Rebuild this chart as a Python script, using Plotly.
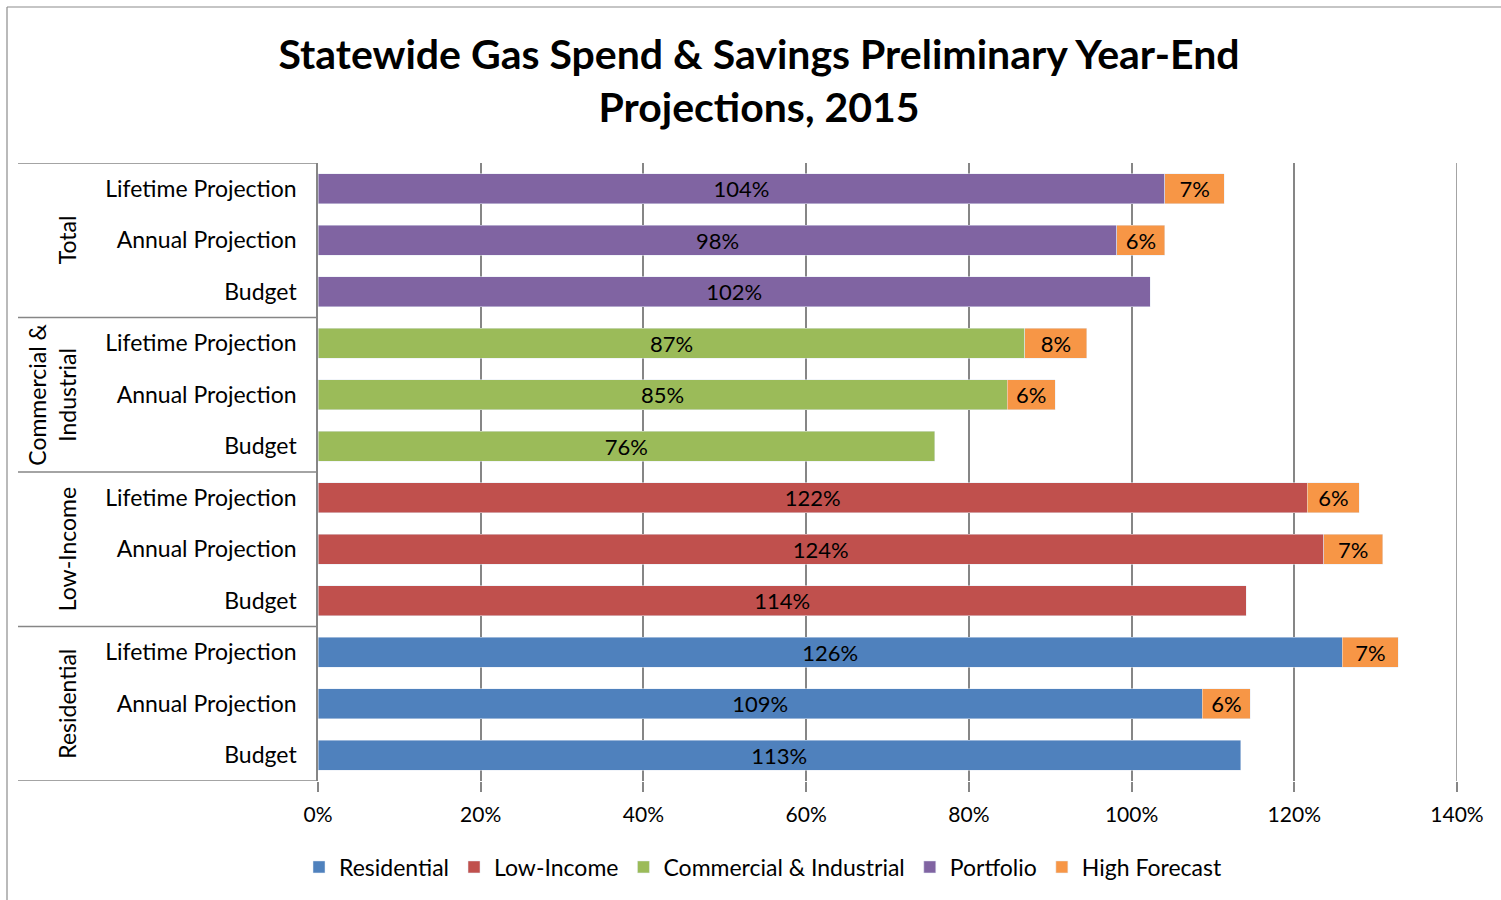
import plotly.graph_objects as go

# Row labels within each sector (top to bottom as displayed)
row_labels = ["Lifetime Projection", "Annual Projection", "Budget"]
# Sectors from top to bottom as displayed
sectors = ["Total", "Commercial &<br>Industrial", "Low-Income", "Residential"]

# Values (fraction of goal), order: Lifetime, Annual, Budget
residential = [1.259, 1.087, 1.134]
low_income = [1.216, 1.236, 1.141]
commercial = [0.869, 0.847, 0.758]
portfolio = [1.041, 0.982, 1.023]

# High forecast increments, order: Lifetime, Annual, Budget
hf_residential = [0.069, 0.059, None]
hf_low_income = [0.064, 0.073, None]
hf_commercial = [0.076, 0.059, None]
hf_portfolio = [0.073, 0.059, None]

x_ticks = [0, 0.2, 0.4, 0.6, 0.8, 1.0, 1.2, 1.4]

colors = {
    "Residential": "#4F81BD",
    "Low-Income": "#C0504D",
    "Commercial & Industrial": "#9BBB59",
    "Portfolio": "#8064A2",
    "High Forecast": "#F79646",
}

sector_order_bottom_up = ["Residential", "Low-Income", "Commercial & Industrial", "Portfolio"]
base_data = {
    "Residential": residential,
    "Low-Income": low_income,
    "Commercial & Industrial": commercial,
    "Portfolio": portfolio,
}
hf_data = {
    "Residential": hf_residential,
    "Low-Income": hf_low_income,
    "Commercial & Industrial": hf_commercial,
    "Portfolio": hf_portfolio,
}

tickvals, ticktext = [], []
pos = 0
positions = {}
for s in sector_order_bottom_up:
    positions[s] = []
    for i in [2, 1, 0]:
        positions[s].append(pos)
        tickvals.append(pos)
        ticktext.append(row_labels[i])
        pos += 1

FONT = "Lato"
BAR_TXT = 22
fig = go.Figure()

hf_y, hf_x = [], []
for s in sector_order_bottom_up:
    vals = [base_data[s][i] for i in [2, 1, 0]]
    fig.add_trace(go.Bar(
        name=s, orientation="h", y=positions[s], x=vals,
        marker=dict(color=colors[s]), width=0.58,
        texttemplate="%{x:.0%}", textposition="inside",
        insidetextanchor="middle", textangle=0, constraintext="none",
        textfont=dict(color="black", size=BAR_TXT, family=FONT),
    ))
    hvals = [hf_data[s][i] for i in [2, 1, 0]]
    for p, v in zip(positions[s], hvals):
        if v is not None:
            hf_y.append(p)
            hf_x.append(v)

fig.add_trace(go.Bar(
    name="High Forecast", orientation="h", y=hf_y, x=hf_x,
    marker=dict(color=colors["High Forecast"]), width=0.58,
    texttemplate="%{x:.0%}", textposition="inside",
    insidetextanchor="middle", textangle=0, constraintext="none",
    textfont=dict(color="black", size=BAR_TXT, family=FONT),
))

W, H = 1501, 900
L, R, T, B = 318, 44, 163, 119
pw = W - L - R
ph = H - T - B

def px_to_paper_x(px):
    return (px - L) / pw

def px_to_paper_y(py):
    return (H - B - py) / ph

grid_col = "#868686"
shapes = []
for yb in [-0.5, 2.5, 5.5, 8.5, 11.5]:
    shapes.append(dict(type="line", xref="paper", yref="y",
                       x0=px_to_paper_x(18), x1=0, y0=yb, y1=yb,
                       line=dict(color=grid_col, width=1.5)))
# last gridline at the right edge of the range
shapes.append(dict(type="line", xref="x", yref="paper",
                   x0=x_ticks[-1], x1=x_ticks[-1], y0=0, y1=1,
                   line=dict(color=grid_col, width=1.5), layer="below"))
shapes.append(dict(type="line", xref="paper", yref="paper",
                   x0=px_to_paper_x(7), x1=px_to_paper_x(7),
                   y0=px_to_paper_y(7), y1=px_to_paper_y(905),
                   line=dict(color="#8c8c8c", width=1.2)))
shapes.append(dict(type="line", xref="paper", yref="paper",
                   x0=px_to_paper_x(7), x1=px_to_paper_x(1505),
                   y0=px_to_paper_y(7), y1=px_to_paper_y(7),
                   line=dict(color="#8c8c8c", width=1.2)))

annotations = []
group_centers = [10, 7, 4, 1]
for name, yc in zip(sectors, group_centers):
    xpx = 52 if "<br>" in name else 67
    annotations.append(dict(text=name, xref="paper", yref="y",
                            x=px_to_paper_x(xpx), y=yc, showarrow=False,
                            textangle=-90, xanchor="center", yanchor="middle",
                            font=dict(size=23, family=FONT, color="black")))

fig.update_layout(
    width=W, height=H,
    margin=dict(l=L, r=R, t=T, b=B),
    barmode="stack",
    plot_bgcolor="white", paper_bgcolor="white",
    title=dict(text="<b>Statewide Gas Spend & Savings Preliminary Year-End<br>Projections, 2015</b>",
               x=759 / W, xanchor="center", xref="container",
               y=1 - 68.5 / H, yanchor="middle", yref="container",
               font=dict(size=41, family=FONT, color="black")),
    legend=dict(orientation="h", xref="container", yref="container",
                x=763 / W, xanchor="center", y=1 - 867 / H, yanchor="middle",
                font=dict(size=23, family=FONT, color="black"),
                traceorder="normal", itemwidth=30),
    shapes=shapes, annotations=annotations,
)
fig.update_xaxes(range=[0, 1.4], tickvals=x_ticks, tickformat=".0%",
                 showgrid=True, gridcolor=grid_col, gridwidth=1.5,
                 ticks="outside", ticklen=10, tickcolor=grid_col, tickwidth=1.5,
                 zeroline=False, showline=False, ticklabelstandoff=5,
                 tickfont=dict(size=21, family=FONT, color="black"))
fig.update_yaxes(range=[-0.5, 11.5], tickvals=tickvals, ticktext=ticktext,
                 showgrid=False, zeroline=False, showline=True,
                 linecolor=grid_col, linewidth=1.5, ticks="",
                 ticklabelstandoff=15,
                 tickfont=dict(size=23, family=FONT, color="black"))

fig.write_html("out.html", post_script="document.body.style.margin='0';",
               config={"displayModeBar": False})
